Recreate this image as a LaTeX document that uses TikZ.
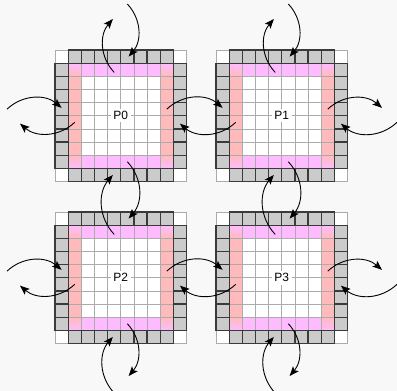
\documentclass[tikz,border=0pt]{standalone}
\usepackage{fontspec}
\setmainfont{Liberation Sans}
\usetikzlibrary{arrows.meta}
\definecolor{bg}{HTML}{F8F8F8}
\definecolor{halo}{HTML}{CBCBCB}
\definecolor{mag}{HTML}{FFBBFF}
\definecolor{sal}{HTML}{FFBBBB}
\definecolor{gline}{HTML}{ABABAB}
\definecolor{dline}{HTML}{3A3A3A}
\newcommand\cs{13.15}
\tikzset{
  flow/.style={draw=black, line width=0.9pt, -{Stealth[length=9.5pt,width=7.5pt,inset=2pt]}, bend left=42},
  halocell/.style={fill=halo, draw=dline, line width=1.2pt},
  gridline/.style={draw=gline, line width=0.8pt},
  blocklabel/.style={fill=white, inner sep=2.5pt, font=\fontsize{12}{14}\selectfont},
}
\newcommand\drawblock[4]{%
  \begin{scope}[shift={(#2,#3)}]
    \fill[white] (0,0) rectangle (10*\cs,10*\cs);
    \fill[mag] (2*\cs,\cs) rectangle (8*\cs,2*\cs);
    \fill[mag] (2*\cs,8*\cs) rectangle (8*\cs,9*\cs);
    \fill[sal] (\cs,2*\cs) rectangle (2*\cs,8*\cs);
    \fill[sal] (8*\cs,2*\cs) rectangle (9*\cs,8*\cs);
    \shade[top color=mag, bottom color=sal] (\cs,\cs) rectangle (2*\cs,2*\cs);
    \shade[top color=mag, bottom color=sal] (8*\cs,\cs) rectangle (9*\cs,2*\cs);
    \shade[top color=sal, bottom color=mag] (\cs,8*\cs) rectangle (2*\cs,9*\cs);
    \shade[top color=sal, bottom color=mag] (8*\cs,8*\cs) rectangle (9*\cs,9*\cs);
    \foreach \k in {0,...,10}{
      \draw[gridline] (\k*\cs,0) -- (\k*\cs,10*\cs);
      \draw[gridline] (0,\k*\cs) -- (10*\cs,\k*\cs);
    }
    \foreach \k in {1,...,8}{
      \draw[halocell] (\k*\cs,0) rectangle ({(\k+1)*\cs},\cs);
      \draw[halocell] (\k*\cs,9*\cs) rectangle ({(\k+1)*\cs},10*\cs);
      \draw[halocell] (0,\k*\cs) rectangle (\cs,{(\k+1)*\cs});
      \draw[halocell] (9*\cs,\k*\cs) rectangle (10*\cs,{(\k+1)*\cs});
    }
    \node[blocklabel] (#1) at (5*\cs,5*\cs) {#4};
    \coordinate (#1-84) at (8.5*\cs,4.5*\cs);
    \coordinate (#1-04) at (0.5*\cs,4.4*\cs);
    \coordinate (#1-15) at (1.5*\cs,5.5*\cs);
    \coordinate (#1-95) at (9.5*\cs,5.6*\cs);
    \coordinate (#1-41) at (4.5*\cs,1.7*\cs);
    \coordinate (#1-49) at (4.4*\cs,9.5*\cs);
    \coordinate (#1-58) at (5.5*\cs,8.5*\cs);
    \coordinate (#1-50) at (5.6*\cs,0.5*\cs);
  \end{scope}
}
\begin{document}
\begin{tikzpicture}[x=1pt,y=-1pt]
  \fill[bg] (0,0) rectangle (397,391);
  \useasboundingbox (0,0) rectangle (397,391);
  \drawblock{P0}{55}{50}{P0}
  \drawblock{P1}{216}{50}{P1}
  \drawblock{P2}{55}{212}{P2}
  \drawblock{P3}{216}{212}{P3}
  % outside free ends
  \coordinate (L0in)  at (7,{50+4.5*\cs});
  \coordinate (L0out) at (20,{50+5.6*\cs});
  \coordinate (L2in)  at (7,{212+4.5*\cs});
  \coordinate (L2out) at (20,{212+5.6*\cs});
  \coordinate (R1out) at (382,{50+4.4*\cs});
  \coordinate (R1in)  at (397,{50+5.5*\cs});
  \coordinate (R3out) at (382,{212+4.4*\cs});
  \coordinate (R3in)  at (397,{212+5.5*\cs});
  \coordinate (T0in)  at ({55+5.5*\cs},4);
  \coordinate (T0out) at ({55+4.4*\cs},19);
  \coordinate (T1in)  at ({216+5.5*\cs},4);
  \coordinate (T1out) at ({216+4.4*\cs},19);
  \coordinate (B2out) at ({55+5.6*\cs},376);
  \coordinate (B2in)  at ({55+4.5*\cs},393);
  \coordinate (B3out) at ({216+5.6*\cs},376);
  \coordinate (B3in)  at ({216+4.5*\cs},393);
  % horizontal exchanges
  \draw[flow] (L0in) to (P0-04);
  \draw[flow] (P0-15) to (L0out);
  \draw[flow] (P0-84) to (P1-04);
  \draw[flow] (P1-15) to (P0-95);
  \draw[flow] (P1-84) to (R1out);
  \draw[flow] (R1in) to (P1-95);
  \draw[flow] (L2in) to (P2-04);
  \draw[flow] (P2-15) to (L2out);
  \draw[flow] (P2-84) to (P3-04);
  \draw[flow] (P3-15) to (P2-95);
  \draw[flow] (P3-84) to (R3out);
  \draw[flow] (R3in) to (P3-95);
  % vertical exchanges
  \draw[flow] (T0in) to (P0-50);
  \draw[flow] (P0-41) to (T0out);
  \draw[flow] (P0-58) to (P2-50);
  \draw[flow] (P2-41) to (P0-49);
  \draw[flow] (P2-58) to (B2out);
  \draw[flow] (B2in) to (P2-49);
  \draw[flow] (T1in) to (P1-50);
  \draw[flow] (P1-41) to (T1out);
  \draw[flow] (P1-58) to (P3-50);
  \draw[flow] (P3-41) to (P1-49);
  \draw[flow] (P3-58) to (B3out);
  \draw[flow] (B3in) to (P3-49);
\end{tikzpicture}
\end{document}
